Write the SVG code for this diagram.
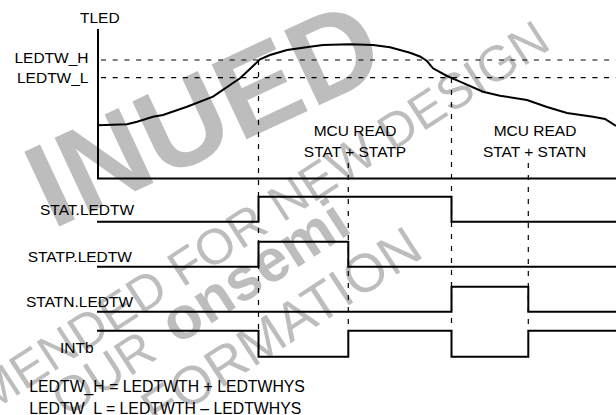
<svg xmlns="http://www.w3.org/2000/svg" width="616" height="415" viewBox="0 0 616 415">
<style>
.lbl{font-family:"Liberation Sans",Arial,sans-serif;font-size:15.5px;fill:#000}
.eq{font-family:"Liberation Sans",Arial,sans-serif;font-size:15.8px;fill:#000}
.wm{font-family:"Liberation Sans",Arial,sans-serif;fill:#bdbdbd}
.sig{fill:none;stroke:#000;stroke-width:2;stroke-linejoin:miter}
.vd{fill:none;stroke:#000;stroke-width:1.2;stroke-dasharray:5 7}
.hd{fill:none;stroke:#000;stroke-width:1.2;stroke-dasharray:5 6.7}
</style>
<rect width="616" height="415" fill="#fff"/>
<g id="watermark">
<text class="wm" font-size="120" font-weight="bold" transform="translate(52,230) rotate(-25)">INUED</text>
<text class="wm" font-size="50" transform="translate(-11,413.7) rotate(-33)">MENDED FOR NEW DESIGN</text>
<text class="wm" font-size="50" transform="translate(66,418) rotate(-33)">OUR <tspan font-weight="bold" font-size="60" dx="8">onsemi</tspan></text>
<text class="wm" font-size="54" transform="translate(157,430) rotate(-33)">FORMATION</text>
</g>
<g id="labels">
<text class="lbl" x="80" y="22.7">TLED</text>
<text class="lbl" x="88.5" y="62.6" text-anchor="end">LEDTW_H</text>
<text class="lbl" x="88.5" y="82.6" text-anchor="end">LEDTW_L</text>
<text class="lbl" x="355" y="136" text-anchor="middle">MCU READ</text>
<text class="lbl" x="355" y="156.5" text-anchor="middle">STAT + STATP</text>
<text class="lbl" x="535" y="136" text-anchor="middle">MCU READ</text>
<text class="lbl" x="534.5" y="156.5" text-anchor="middle">STAT + STATN</text>
<text class="lbl" x="40" y="215">STAT.LEDTW</text>
<text class="lbl" x="27.7" y="261.7">STATP.LEDTW</text>
<text class="lbl" x="26" y="306.7">STATN.LEDTW</text>
<text class="lbl" x="60" y="353">INTb</text>
<text class="eq" x="29.3" y="392.3">LEDTW_H = LEDTWTH + LEDTWHYS</text>
<text class="eq" x="29.3" y="413.5">LEDTW_L = LEDTWTH – LEDTWHYS</text>
</g>
<g id="connectors">
<path class="hd" d="M101,60 H616"/>
<path class="hd" d="M101,77.7 H616"/>
<path class="vd" d="M258.5,60 V331"/>
<path class="vd" d="M348.3,163 V331"/>
<path class="vd" d="M451.5,78 V331"/>
<path class="vd" d="M528.3,163 V331"/>
<path class="sig" d="M98,29 V178.5 H616"/>
<polyline class="sig" stroke-linejoin="round" points="98,125.3 127,124.3 137,121.7 153,116.7 163,115 187,106.7 213,96.7 240,78.3 252,67 260,59.3 270,55 287,50 310,46.7 323,45 350,44.3 373,45 390,47.3 410,52.7 420,56.5 427,61 433,68.3 447,76 460,81.7 483,91.7 500,95.7 527,100 547,107 567,113 593,116.7 605,119 616,126"/>
</g>
<g id="STAT_LEDTW"><path class="sig" d="M97,221.7 H258.5 V196.7 H451.5 V221.7 H616"/></g>
<g id="STATP_LEDTW"><path class="sig" d="M97,266.7 H258.5 V241.7 H348.3 V266.7 H616"/></g>
<g id="STATN_LEDTW"><path class="sig" d="M97,311.7 H451.5 V286.7 H528.3 V311.7 H616"/></g>
<g id="INTb"><path class="sig" d="M97,330.7 H258.5 V356.7 H348.3 V330.7 H451.5 V356.7 H528.3 V330.7 H616"/></g>
</svg>
